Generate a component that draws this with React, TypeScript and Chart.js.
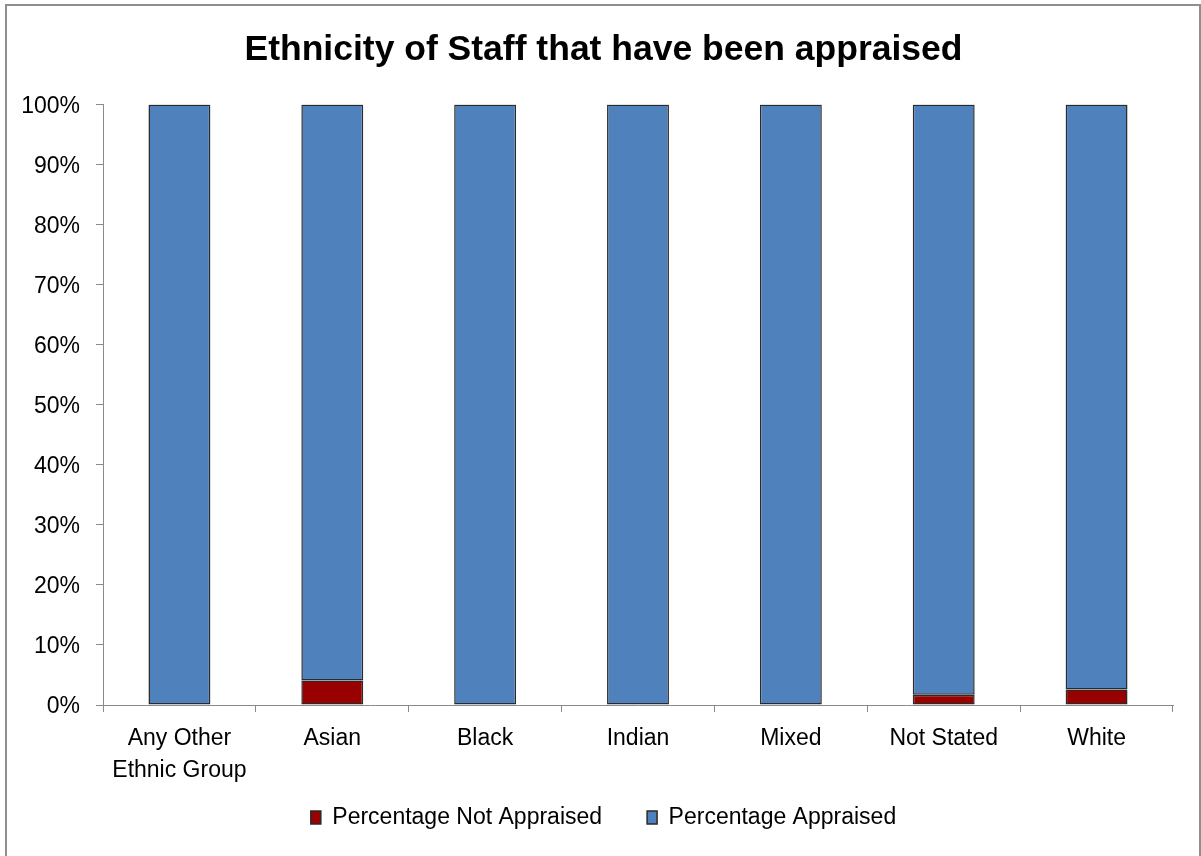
import React, { useEffect, useRef } from "react";
import { Chart, registerables } from "chart.js";

Chart.register(...registerables);

const categories: (string | string[])[] = [
  ["Any Other", "Ethnic Group"],
  "Asian",
  "Black",
  "Indian",
  "Mixed",
  "Not Stated",
  "White",
];
const notAppraised = [0, 4.1, 0, 0, 0, 1.7, 2.6];
const appraised = [100, 95.9, 100, 100, 100, 98.3, 97.4];
const seriesNames = ["Percentage Not Appraised", "Percentage Appraised"];
const titleText = "Ethnicity of Staff that have been appraised";

const FONT = "'Liberation Sans', Arial, sans-serif";
const AXIS_GRAY = "#8a8a8a";

export default function App() {
  const ref = useRef<HTMLCanvasElement | null>(null);

  useEffect(() => {
    if (!ref.current) return;
    const chart = new Chart(ref.current, {
      type: "bar",
      data: {
        labels: categories,
        datasets: [
          {
            label: seriesNames[0],
            data: notAppraised,
            backgroundColor: "#990000",
            borderColor: "#2a2a2a",
            borderWidth: 1.5,
            borderSkipped: false,
            barPercentage: 0.405,
            categoryPercentage: 1,
          },
          {
            label: seriesNames[1],
            data: appraised,
            backgroundColor: "#4f81bd",
            borderColor: "#2a2a2a",
            borderWidth: 1.5,
            borderSkipped: false,
            barPercentage: 0.405,
            categoryPercentage: 1,
          },
        ],
      },
      options: {
        animation: false,
        responsive: false,
        devicePixelRatio: 1,
        layout: { padding: { left: 34, right: 28, top: 0, bottom: 17 } },
        plugins: {
          tooltip: { enabled: false },
          title: {
            display: true,
            text: titleText,
            color: "#000",
            font: { family: FONT, size: 35.5, weight: "bold", lineHeight: 1.2 },
            padding: { top: 29, bottom: 33 },
          },
          legend: {
            position: "bottom",
            labels: {
              color: "#000",
              font: { family: FONT, size: 23 },
              boxWidth: 10,
              boxHeight: 13,
              padding: 45,
            },
          },
        },
        scales: {
          x: {
            stacked: true,
            grid: {
              offset: true,
              drawOnChartArea: false,
              drawTicks: true,
              tickLength: 7,
              color: AXIS_GRAY,
            },
            border: { display: true, color: AXIS_GRAY, width: 1 },
            ticks: {
              color: "#000",
              font: { family: FONT, size: 23, lineHeight: 1.41 },
              padding: 10,
              maxRotation: 0,
              autoSkip: false,
            },
            afterFit: (s: any) => {
              s.height = 56;
              s._computeLabelArea = () => undefined;
            },
          },
          y: {
            stacked: true,
            min: 0,
            max: 100,
            grid: {
              drawOnChartArea: false,
              drawTicks: true,
              tickLength: 7,
              color: AXIS_GRAY,
            },
            border: { display: true, color: AXIS_GRAY, width: 1 },
            ticks: {
              stepSize: 10,
              color: "#000",
              font: { family: FONT, size: 23 },
              padding: 16,
              labelOffset: 2,
              callback: (v: any) => v + "%",
            },
            afterFit: (s: any) => {
              s.width = 69;
              s._computeLabelArea = () => undefined;
            },
          },
        },
      },
    });
    return () => chart.destroy();
  }, []);

  return (
    <div style={{ position: "absolute", left: 0, top: 0, width: 1201, height: 856, background: "#fff", overflow: "hidden" }}>
      <div
        style={{
          position: "absolute",
          left: 5,
          top: 4,
          width: 1192,
          height: 860,
          borderLeft: "2px solid #8f8f8f",
          borderTop: "2px solid #8f8f8f",
          borderRight: "2px solid #8f8f8f",
        }}
      />
      <canvas ref={ref} width={1201} height={856} style={{ position: "absolute", left: 0, top: 0, width: 1201, height: 856 }} />
    </div>
  );
}
